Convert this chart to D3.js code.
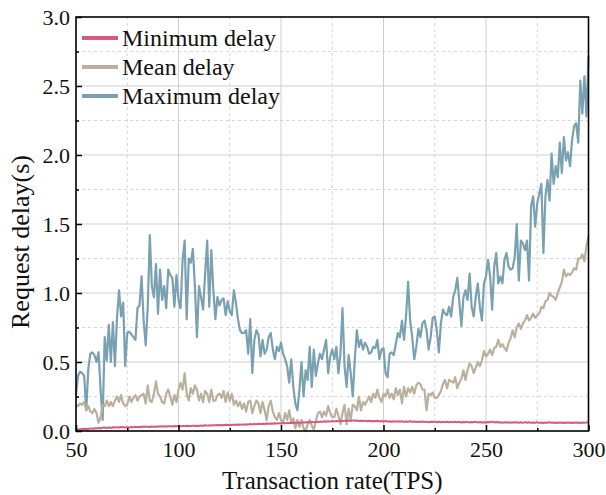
<!DOCTYPE html>
<html>
<head>
<meta charset="utf-8">
<script src="https://cdn.jsdelivr.net/npm/d3@7"></script>
<style>
  body { margin: 0; background: #fff; }
  svg text { font-family: "Liberation Serif", "Times New Roman", serif; fill: #111; }
</style>
</head>
<body>
<div id="chart"></div>
<script>
// transaction rate, one sample per TPS from 50 to 300
var tpsStart = 50;

var minDelay = [
  0.010, 0.013, 0.011, 0.015, 0.014, 0.017, 0.015, 0.019, 0.017, 0.020,
  0.019, 0.022, 0.020, 0.023, 0.025, 0.022, 0.026, 0.024, 0.027, 0.025,
  0.028, 0.026, 0.029, 0.027, 0.025, 0.028, 0.026, 0.029, 0.027, 0.030,
  0.028, 0.031, 0.029, 0.032, 0.030, 0.031, 0.029, 0.032, 0.030, 0.033,
  0.031, 0.034, 0.032, 0.035, 0.033, 0.035, 0.034, 0.032, 0.036, 0.034,
  0.036, 0.034, 0.037, 0.035, 0.038, 0.036, 0.037, 0.039, 0.036, 0.038,
  0.037, 0.040, 0.038, 0.041, 0.039, 0.042, 0.040, 0.042, 0.041, 0.043,
  0.041, 0.044, 0.042, 0.045, 0.043, 0.046, 0.044, 0.046, 0.045, 0.047,
  0.045, 0.048, 0.046, 0.049, 0.047, 0.050, 0.048, 0.051, 0.049, 0.052,
  0.050, 0.053, 0.051, 0.054, 0.052, 0.055, 0.053, 0.056, 0.054, 0.057,
  0.055, 0.058, 0.056, 0.059, 0.057, 0.060, 0.058, 0.061, 0.059, 0.062,
  0.060, 0.063, 0.061, 0.065, 0.062, 0.066, 0.063, 0.067, 0.065, 0.068,
  0.066, 0.070, 0.067, 0.071, 0.068, 0.072, 0.069, 0.073, 0.070, 0.074,
  0.071, 0.075, 0.072, 0.076, 0.073, 0.077, 0.074, 0.076, 0.073, 0.075,
  0.072, 0.075, 0.071, 0.074, 0.070, 0.073, 0.070, 0.074, 0.069, 0.072,
  0.069, 0.072, 0.068, 0.071, 0.067, 0.070, 0.068, 0.071, 0.067, 0.070,
  0.066, 0.069, 0.067, 0.070, 0.066, 0.069, 0.065, 0.068, 0.066, 0.069,
  0.065, 0.068, 0.064, 0.067, 0.065, 0.068, 0.064, 0.067, 0.063, 0.066,
  0.064, 0.067, 0.063, 0.066, 0.064, 0.067, 0.063, 0.066, 0.062, 0.065,
  0.063, 0.066, 0.062, 0.065, 0.063, 0.066, 0.062, 0.065, 0.061, 0.064,
  0.062, 0.065, 0.063, 0.068, 0.062, 0.065, 0.061, 0.064, 0.060, 0.063,
  0.061, 0.064, 0.060, 0.063, 0.061, 0.064, 0.060, 0.063, 0.059, 0.064,
  0.060, 0.063, 0.059, 0.062, 0.060, 0.063, 0.059, 0.062, 0.058, 0.061,
  0.060, 0.063, 0.059, 0.062, 0.058, 0.061, 0.059, 0.062, 0.058, 0.061,
  0.059, 0.062, 0.058, 0.061, 0.059, 0.062, 0.058, 0.061, 0.059, 0.062,
  0.063
];

var meanDelay = [
  0.19, 0.18, 0.20, 0.19, 0.21, 0.15, 0.18, 0.14, 0.13, 0.16,
  0.13, 0.06, 0.10, 0.19, 0.18, 0.22, 0.18, 0.21, 0.18, 0.22,
  0.25, 0.21, 0.26, 0.20, 0.18, 0.19, 0.25, 0.21, 0.24, 0.26,
  0.22, 0.25, 0.26, 0.27, 0.20, 0.33, 0.22, 0.21, 0.27, 0.36,
  0.27, 0.25, 0.21, 0.20, 0.27, 0.30, 0.25, 0.19, 0.26, 0.21,
  0.30, 0.35, 0.30, 0.42, 0.27, 0.22, 0.31, 0.27, 0.33, 0.30,
  0.22, 0.27, 0.21, 0.29, 0.27, 0.21, 0.30, 0.22, 0.22, 0.26,
  0.27, 0.24, 0.29, 0.21, 0.28, 0.22, 0.27, 0.19, 0.22, 0.18,
  0.21, 0.16, 0.20, 0.14, 0.21, 0.22, 0.13, 0.18, 0.22, 0.20,
  0.13, 0.21, 0.15, 0.08, 0.18, 0.22, 0.14, 0.10, 0.08, 0.13,
  0.08, 0.06, 0.13, 0.08, 0.15, 0.06, 0.09, 0.02, 0.08, 0.03,
  0.08, 0.02, 0.00, 0.05, 0.08, 0.04, 0.01, 0.07, 0.13, 0.14,
  0.10, 0.14, 0.11, 0.18, 0.13, 0.10, 0.10, 0.16, 0.11, 0.05,
  0.13, 0.19, 0.05, 0.16, 0.08, 0.19, 0.18, 0.15, 0.25, 0.15,
  0.21, 0.19, 0.22, 0.25, 0.21, 0.27, 0.24, 0.30, 0.24, 0.21,
  0.27, 0.25, 0.30, 0.24, 0.27, 0.23, 0.31, 0.26, 0.30, 0.20,
  0.32, 0.25, 0.31, 0.28, 0.32, 0.27, 0.33, 0.35, 0.34, 0.30,
  0.30, 0.15, 0.27, 0.26, 0.28, 0.24, 0.24, 0.26, 0.29, 0.34,
  0.37, 0.31, 0.37, 0.36, 0.35, 0.39, 0.31, 0.35, 0.38, 0.44,
  0.37, 0.44, 0.49, 0.47, 0.42, 0.46, 0.50, 0.47, 0.51, 0.58,
  0.54, 0.56, 0.59, 0.55, 0.60, 0.61, 0.66, 0.61, 0.63, 0.60,
  0.58, 0.64, 0.67, 0.73, 0.68, 0.75, 0.78, 0.74, 0.78, 0.80,
  0.84, 0.80, 0.82, 0.85, 0.82, 0.84, 0.85, 0.90, 0.89, 0.94,
  0.95, 1.00, 0.98, 0.97, 0.95, 1.00, 1.04, 1.08, 1.17, 1.12,
  1.14, 1.13, 1.15, 1.18, 1.17, 1.25, 1.25, 1.28, 1.23, 1.34,
  1.41
];

var maxDelay = [
  0.26, 0.40, 0.43, 0.42, 0.40, 0.15, 0.45, 0.56, 0.57, 0.55,
  0.50, 0.57, 0.30, 0.08, 0.68, 0.51, 0.77, 0.50, 0.79, 0.47,
  0.82, 1.02, 0.83, 0.93, 0.47, 0.71, 0.72, 0.70, 0.68, 0.66,
  0.89, 0.91, 1.12, 0.80, 0.62, 0.90, 1.42, 1.05, 0.97, 1.21,
  0.85, 1.17, 0.95, 1.05, 0.89, 1.17, 1.13, 1.11, 0.90, 1.13,
  0.95, 0.89, 1.24, 1.38, 0.81, 1.25, 1.22, 1.32, 1.05, 0.68,
  1.05, 0.97, 0.88, 1.14, 1.38, 0.90, 1.31, 1.02, 0.81, 0.97,
  0.91, 0.95, 0.96, 0.84, 0.94, 0.87, 0.84, 1.02, 0.93, 0.81,
  0.73, 0.71, 0.71, 0.73, 0.56, 0.81, 0.42, 0.66, 0.73, 0.70,
  0.54, 0.66, 0.56, 0.59, 0.68, 0.71, 0.59, 0.52, 0.61, 0.58,
  0.64, 0.56, 0.52, 0.47, 0.35, 0.52, 0.32, 0.20, 0.15, 0.30,
  0.50, 0.25, 0.44, 0.37, 0.61, 0.32, 0.59, 0.40, 0.49, 0.56,
  0.52, 0.59, 0.66, 0.42, 0.54, 0.59, 0.52, 0.61, 0.42, 0.56,
  0.89, 0.47, 0.32, 0.55, 0.42, 0.25, 0.52, 0.73, 0.61, 0.66,
  0.59, 0.64, 0.61, 0.56, 0.57, 0.61, 0.60, 0.66, 0.52, 0.59,
  0.60, 0.42, 0.39, 0.56, 0.57, 0.55, 0.63, 0.71, 0.68, 0.80,
  0.66, 0.83, 1.08, 0.80, 0.68, 0.52, 0.61, 0.74, 0.68, 0.78,
  0.80, 0.73, 0.59, 0.68, 0.82, 0.83, 0.73, 0.57, 0.78, 0.88,
  0.85, 0.84, 0.90, 0.83, 0.97, 1.02, 1.11, 0.93, 0.76, 0.97,
  1.02, 0.95, 1.14, 0.90, 0.83, 0.97, 1.07, 0.90, 0.80, 1.07,
  1.12, 1.24, 1.12, 0.88, 1.19, 1.29, 1.07, 1.12, 1.07, 1.24,
  1.29, 1.19, 1.17, 1.18, 1.26, 1.50, 1.09, 1.38, 1.36, 1.31,
  1.38, 1.09, 1.63, 1.70, 1.48, 1.65, 1.72, 1.79, 1.29, 1.70,
  1.82, 1.67, 2.01, 1.79, 1.92, 1.84, 2.09, 1.87, 2.13, 1.96,
  2.02, 1.92, 2.11, 2.21, 2.23, 2.09, 2.54, 2.30, 2.57, 2.28,
  2.72
];

var seriesNames = ['Minimum delay', 'Mean delay', 'Maximum delay'];
var seriesColors = ['#d65c7d', '#bab09e', '#7aa1b1'];

var xTicks = [50, 100, 150, 200, 250, 300];
var xMinor = [75, 125, 175, 225, 275];
var yTicks = [0, 0.5, 1.0, 1.5, 2.0, 2.5, 3.0];
var yMinor = [0.25, 0.75, 1.25, 1.75, 2.25, 2.75];

var width = 606, height = 495;
var margin = { left: 76, right: 17.5, top: 17, bottom: 64 };
var pw = width - margin.left - margin.right;
var ph = height - margin.top - margin.bottom;

var svg = d3.select('#chart').append('svg')
    .attr('width', width)
    .attr('height', height);

var g = svg.append('g')
    .attr('transform', 'translate(' + margin.left + ',' + margin.top + ')');

var x = d3.scaleLinear().domain([50, 300]).range([0, pw]);
var y = d3.scaleLinear().domain([0, 3]).range([ph, 0]);

// grid
var grid = g.append('g').classed('grid', true);
grid.selectAll('.vmaj').data(xTicks.slice(1, -1)).enter().append('line')
    .attr('x1', function (d) { return x(d); }).attr('x2', function (d) { return x(d); })
    .attr('y1', 0).attr('y2', ph)
    .style('stroke', '#cfcfcf').style('stroke-width', 1);
grid.selectAll('.vmin').data(xMinor).enter().append('line')
    .attr('x1', function (d) { return x(d); }).attr('x2', function (d) { return x(d); })
    .attr('y1', 0).attr('y2', ph)
    .style('stroke', '#d6d6d6').style('stroke-width', 1).style('stroke-dasharray', '3,3');
grid.selectAll('.hmaj').data(yTicks.slice(1, -1)).enter().append('line')
    .attr('y1', function (d) { return y(d); }).attr('y2', function (d) { return y(d); })
    .attr('x1', 0).attr('x2', pw)
    .style('stroke', '#cfcfcf').style('stroke-width', 1);
grid.selectAll('.hmin').data(yMinor).enter().append('line')
    .attr('y1', function (d) { return y(d); }).attr('y2', function (d) { return y(d); })
    .attr('x1', 0).attr('x2', pw)
    .style('stroke', '#d6d6d6').style('stroke-width', 1).style('stroke-dasharray', '3,3');

// series
var all = [minDelay, meanDelay, maxDelay];
var line = d3.line()
    .x(function (d, i) { return x(tpsStart + i); })
    .y(function (d) { return y(d); });

[2, 1, 0].forEach(function (k) {
    g.append('path')
        .datum(all[k])
        .attr('d', line)
        .style('fill', 'none')
        .style('stroke', seriesColors[k])
        .style('stroke-width', k === 0 ? 2 : 2.2)
        .style('stroke-linejoin', 'round');
});

// axes (ticks point inward)
var xAxis = d3.axisBottom(x).tickValues(xTicks).tickSize(-6).tickPadding(10)
    .tickFormat(d3.format('d'));
var yAxis = d3.axisLeft(y).tickValues(yTicks).tickSize(-6).tickPadding(6)
    .tickFormat(d3.format('.1f'));

var xg = g.append('g').attr('transform', 'translate(0,' + ph + ')').call(xAxis);
var yg = g.append('g').call(yAxis);
g.append('g').attr('transform', 'translate(0,' + ph + ')')
    .call(d3.axisBottom(x).tickValues(xMinor).tickSize(-3).tickFormat(''));
g.append('g')
    .call(d3.axisLeft(y).tickValues(yMinor).tickSize(-3).tickFormat(''));

g.selectAll('.domain').remove();
g.selectAll('.tick line').style('stroke', '#000').style('stroke-width', 1.5);
xg.selectAll('text').style('font-size', '22px').style('fill', '#111');
yg.selectAll('text').style('font-size', '22px').style('fill', '#111');

g.append('rect')
    .attr('width', pw).attr('height', ph)
    .style('fill', 'none').style('stroke', '#000').style('stroke-width', 1.6);

// axis titles
svg.append('text')
    .attr('x', margin.left + pw / 2).attr('y', 489)
    .attr('text-anchor', 'middle')
    .style('font-size', '25px')
    .text('Transaction rate(TPS)');

svg.append('text')
    .attr('transform', 'translate(29,' + (margin.top + ph / 2 + 18) + ') rotate(-90)')
    .attr('text-anchor', 'middle')
    .style('font-size', '26px')
    .text('Request delay(s)');

// legend
var legend = g.append('g').attr('transform', 'translate(6,21)');
seriesNames.forEach(function (name, i) {
    var row = legend.append('g').attr('transform', 'translate(0,' + (i * 29) + ')');
    row.append('line')
        .attr('x1', 0).attr('x2', 36).attr('y1', 0).attr('y2', 0)
        .style('stroke', seriesColors[i]).style('stroke-width', 4);
    row.append('text')
        .attr('x', 40).attr('y', 8)
        .style('font-size', '24px')
        .text(name);
});
</script>
</body>
</html>
